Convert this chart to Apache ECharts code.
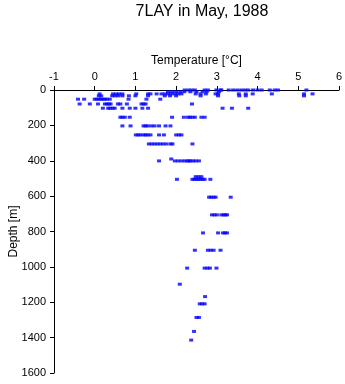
<!DOCTYPE html>
<html><head><meta charset="utf-8">
<script src="https://cdn.jsdelivr.net/npm/echarts@6/dist/echarts.min.js"></script>
<style>html,body{margin:0;padding:0;background:#fff}#c{width:345px;height:384px}</style>
</head><body><div id="c"></div>
<script>
const titleText = "7LAY in May, 1988";
const xName = "Temperature [°C]";
const yName = "Depth [m]";
const xTicks = [-1, 0, 1, 2, 3, 4, 5, 6];
const yTicks = [0, 200, 400, 600, 800, 1000, 1200, 1400, 1600];

// temperature (°C) and depth (m) pairs
const temperature = [
  2.21,2.3,2.38,2.46,2.7,2.78,2.99,3.09,3.11,3.29,3.4,3.5,3.6,3.69,3.77,3.89,4.0,4.1,4.3,4.42,4.5,5.2,
  1.8,1.9,2.0,2.1,2.2,2.35,2.5,2.65,2.75,3.05,
  0.12,0.45,0.53,0.6,0.68,1.02,1.31,1.37,1.52,1.64,1.72,1.8,1.88,1.97,2.05,2.13,2.48,2.6,2.73,2.97,3.03,3.54,3.71,3.88,4.35,5.14,5.35,
  0.1,0.16,0.43,0.5,0.58,0.68,0.84,1.0,1.31,1.72,1.85,2.0,2.6,3.03,3.55,3.71,5.14,
  -0.41,-0.26,0.0,0.05,0.1,0.15,0.2,0.25,0.3,0.37,0.83,1.27,1.61,
  -0.37,-0.12,0.08,0.25,0.3,0.35,0.39,0.57,0.63,0.79,1.15,1.2,1.25,2.39,
  0.2,0.33,0.38,0.44,0.49,0.68,0.86,1.0,1.17,1.31,3.14,3.37,3.77,
  0.63,0.68,0.74,0.86,1.9,2.19,2.29,2.34,2.4,2.46,2.62,2.7,
  0.68,0.88,1.2,1.25,1.3,1.39,1.47,1.58,1.74,1.86,
  1.01,1.07,1.12,1.2,1.25,1.3,1.37,1.58,1.7,2.0,2.07,2.13,
  1.33,1.4,1.47,1.54,1.61,1.68,1.76,1.86,1.91,2.4,
  1.58,1.88,1.97,2.05,2.13,2.21,2.27,2.32,2.35,2.42,2.48,2.56,
  2.02,2.4,2.45,2.5,2.55,2.6,2.65,2.7,2.84,2.48,2.55,2.62,
  2.81,2.86,2.92,2.97,3.34,
  2.88,2.94,3.0,3.11,3.17,3.21,3.25,
  2.66,3.03,3.15,3.2,3.25,
  2.46,2.78,2.85,2.92,3.09,
  2.27,2.7,2.77,2.83,2.99,
  2.09,2.71,2.58,2.64,2.7,2.5,2.56,2.44,2.37
];
const depth = [
  0,0,0,0,0,0,0,0,0,0,0,0,0,0,0,0,0,0,0,0,0,0,
  10,10,10,10,10,10,10,10,10,10,
  22,22,22,22,22,22,22,22,22,22,22,22,22,22,22,22,22,22,22,22,22,22,22,22,22,22,22,
  33,33,33,33,33,33,33,33,33,33,33,33,33,33,33,33,33,
  52,52,52,52,52,52,52,52,52,52,52,52,52,
  79,79,79,79,79,79,79,79,79,79,79,79,79,79,
  103,103,103,103,103,103,103,103,103,103,103,103,103,
  154,154,154,154,154,154,154,154,154,154,154,154,
  203,203,203,203,203,203,203,203,203,203,
  254,254,254,254,254,254,254,254,254,254,254,254,
  305,305,305,305,305,305,305,305,305,305,
  401,390,401,401,401,401,401,401,401,401,401,401,
  505,505,505,505,505,505,505,505,505,490,490,490,
  606,606,606,606,606,
  706,706,706,706,706,706,706,
  808,808,808,808,808,
  906,906,906,906,906,
  1007,1007,1007,1007,1007,
  1098,1168,1209,1209,1209,1286,1286,1365,1414
];

const pts = temperature.map((t, i) => [t, depth[i]]);
const font = "Liberation Sans, Arial, sans-serif";
const chart = echarts.init(document.getElementById('c'), null, {renderer: 'canvas'});
chart.setOption({
  animation: false,
  backgroundColor: '#fff',
  title: {
    text: titleText, left: 197, top: -1, textAlign: 'center',
    textStyle: {fontFamily: font, fontSize: 16, fontWeight: 'normal', color: '#000'}
  },
  grid: {left: 54, top: 90, width: 285, height: 283, containLabel: false, outerBoundsMode: 'none'},
  xAxis: {
    type: 'value', position: 'top', min: xTicks[0], max: xTicks[xTicks.length-1], interval: 1,
    name: xName, nameLocation: 'middle', nameGap: 23, nameMoveOverlap: false,
    nameTextStyle: {fontFamily: font, fontSize: 12, color: '#000'},
    axisLine: {show: true, onZero: false, lineStyle: {color: '#000', width: 1}},
    axisTick: {show: true, inside: false, length: 4, lineStyle: {color: '#000'}},
    axisLabel: {fontFamily: font, fontSize: 11, color: '#000', margin: 8},
    splitLine: {show: false}
  },
  yAxis: {
    type: 'value', inverse: true, min: yTicks[0], max: yTicks[yTicks.length-1], interval: 200,
    name: yName, nameLocation: 'middle', nameGap: 34, nameRotate: 90, nameMoveOverlap: false,
    nameTextStyle: {fontFamily: font, fontSize: 12, color: '#000'},
    axisLine: {show: true, onZero: false, lineStyle: {color: '#000', width: 1}},
    axisTick: {show: true, inside: false, length: 4, lineStyle: {color: '#000'}},
    axisLabel: {fontFamily: font, fontSize: 11, color: '#000', margin: 8, formatter: v => String(v)},
    splitLine: {show: false}
  },
  series: [{
    type: 'scatter', data: pts, symbol: 'rect', symbolSize: [4, 3],
    itemStyle: {color: '#0000ff'}
  }]
});
</script></body></html>
